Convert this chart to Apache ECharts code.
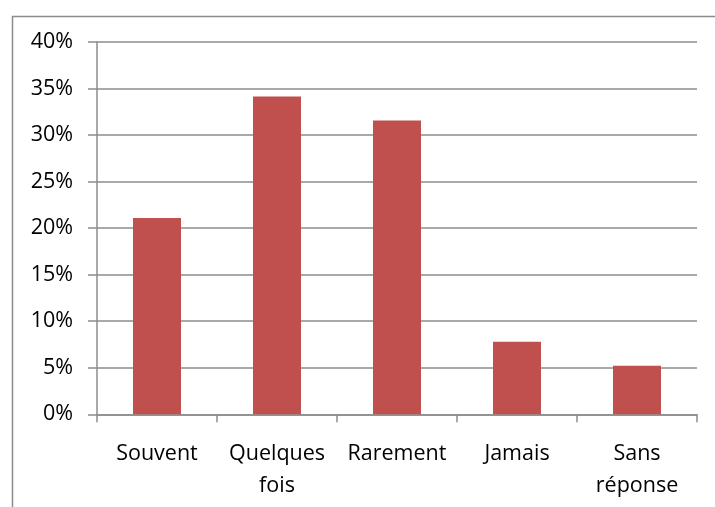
<!DOCTYPE html>
<html><head><meta charset="utf-8">
<script src="https://cdn.jsdelivr.net/npm/echarts@6/dist/echarts.min.js"></script>
<style>html,body{margin:0;padding:0;background:#fff}#c{width:715px;height:507px}</style>
</head><body><div id="c"></div>
<script>
var categories = ['Souvent', 'Quelques\nfois', 'Rarement', 'Jamais', 'Sans\nréponse'];
var values = [21.1, 34.15, 31.57, 7.8, 5.22];
var yTicks = [0, 5, 10, 15, 20, 25, 30, 35, 40];

var chart = echarts.init(document.getElementById('c'), null, {renderer: 'canvas'});
var font = '"Open Sans", "Liberation Sans", sans-serif';
chart.setOption({
  animation: false,
  graphic: [{
    type: 'rect', left: 10, top: 14,
    shape: {width: 720, height: 510},
    style: {fill: 'none', stroke: '#8c8c8c', lineWidth: 1.5}
  }],
  grid: {left: 97, top: 42, width: 600, height: 372.3},
  xAxis: {
    type: 'category', data: categories,
    axisLine: {lineStyle: {color: '#8c8c8c', width: 1.5}},
    axisTick: {show: true, length: 8, inside: false, alignWithLabel: false, lineStyle: {color: '#8c8c8c', width: 1.5}},
    axisLabel: {color: '#000', fontFamily: font, fontSize: 21.5, margin: 24, lineHeight: 32, interval: 0}
  },
  yAxis: {
    type: 'value', min: yTicks[0], max: yTicks[yTicks.length - 1], interval: 5,
    axisLine: {show: true, lineStyle: {color: '#8c8c8c', width: 1.5}},
    axisTick: {show: true, length: 9, lineStyle: {color: '#8c8c8c', width: 1.5}},
    splitLine: {lineStyle: {color: '#8c8c8c', width: 1.5}},
    axisLabel: {color: '#000', fontFamily: font, fontSize: 21.5, margin: 24,
      formatter: function (v) { return v + '%'; }}
  },
  series: [{
    type: 'bar', data: values, barWidth: 48,
    itemStyle: {color: '#C0504D'}
  }]
});
</script></body></html>
